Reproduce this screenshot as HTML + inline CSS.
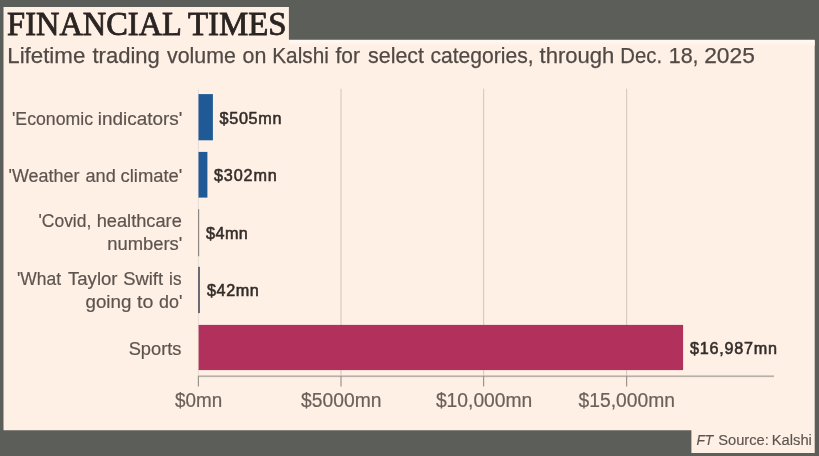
<!DOCTYPE html>
<html lang="en">
<head>
<meta charset="utf-8">
<title>Financial Times – Lifetime trading volume on Kalshi</title>
<style>
  html, body { margin: 0; padding: 0; background: #5c5e5a; }
  body { width: 819px; height: 456px; overflow: hidden; }
  svg { display: block; }
  .serif { font-family: "Liberation Serif", serif; }
  .sans { font-family: "Liberation Sans", sans-serif; }
</style>
</head>
<body>
<svg width="819" height="456" viewBox="0 0 819 456">
  <defs>
    <linearGradient id="edgeGlow" x1="0" y1="0" x2="0" y2="1">
      <stop offset="0" stop-color="#fffaf4"/>
      <stop offset="1" stop-color="#fef0e5"/>
    </linearGradient>
  </defs>
  <!-- backdrop -->
  <rect x="0" y="0" width="819" height="456" fill="#5c5e5a"/>
  <!-- paper: masthead tab + chart panel + source tab -->
  <path d="M3.5 7 H288.9 V39.8 H814.7 V453 H691.4 V430.3 H3.5 Z" fill="#fef0e5"/>
  <rect x="289.5" y="40.3" width="525.2" height="5.5" fill="url(#edgeGlow)"/>

  <!-- grid lines -->
  <g stroke="#d8ccc3" stroke-width="1.2">
    <line x1="198.4" y1="88.8" x2="198.4" y2="376" stroke="#eadfd6"/>
    <line x1="341" y1="88.8" x2="341" y2="376"/>
    <line x1="483.6" y1="88.8" x2="483.6" y2="376"/>
    <line x1="626.6" y1="88.8" x2="626.6" y2="376"/>
  </g>

  <!-- bars -->
  <rect x="198.5" y="94.1" width="14.4" height="46.2" fill="#1f5a96"/>
  <rect x="198.5" y="151.9" width="8.9" height="45.7" fill="#1f5a96"/>
  <rect x="198" y="209.2" width="1.2" height="47" fill="#8f867f"/>
  <rect x="198" y="266.8" width="2" height="46.3" fill="#6c6b73"/>
  <rect x="198.6" y="324.9" width="484.5" height="45.2" fill="#b2305c"/>

  <!-- axis -->
  <rect x="198" y="375.4" width="576" height="1.7" fill="#b9b0a7"/>
  <g stroke="#9c948d" stroke-width="1.2">
    <line x1="198.4" y1="376" x2="198.4" y2="386.4"/>
    <line x1="341" y1="376" x2="341" y2="386.4"/>
    <line x1="483.6" y1="376" x2="483.6" y2="386.4"/>
    <line x1="626.6" y1="376" x2="626.6" y2="386.4"/>
  </g>

  <!-- text -->
  <text class="serif" font-size="33" fill="#2a2422" stroke="#2a2422" stroke-width="0.8"><tspan x="7.12" y="34.60" textLength="173.60" lengthAdjust="spacingAndGlyphs">FINANCIAL</tspan> <tspan x="187.92" y="34.60" textLength="98.68" lengthAdjust="spacingAndGlyphs">TIMES</tspan></text>
  <text class="sans" font-size="22.4" fill="#514945" stroke="#514945" stroke-width="0.25"><tspan x="7.24" y="63.00" textLength="78.06" lengthAdjust="spacingAndGlyphs">Lifetime</tspan> <tspan x="92.50" y="63.00" textLength="67.30" lengthAdjust="spacingAndGlyphs">trading</tspan> <tspan x="167.00" y="63.00" textLength="68.80" lengthAdjust="spacingAndGlyphs">volume</tspan> <tspan x="242.50" y="63.00" textLength="23.80" lengthAdjust="spacingAndGlyphs">on</tspan> <tspan x="272.24" y="63.00" textLength="56.60" lengthAdjust="spacingAndGlyphs">Kalshi</tspan> <tspan x="335.54" y="63.00" textLength="24.46" lengthAdjust="spacingAndGlyphs">for</tspan> <tspan x="368.00" y="63.00" textLength="56.04" lengthAdjust="spacingAndGlyphs">select</tspan> <tspan x="430.50" y="63.00" textLength="103.10" lengthAdjust="spacingAndGlyphs">categories,</tspan> <tspan x="539.54" y="63.00" textLength="74.80" lengthAdjust="spacingAndGlyphs">through</tspan> <tspan x="620.36" y="63.00" textLength="41.82" lengthAdjust="spacingAndGlyphs">Dec.</tspan> <tspan x="668.70" y="63.00" textLength="29.86" lengthAdjust="spacingAndGlyphs">18,</tspan> <tspan x="704.20" y="63.00" textLength="50.64" lengthAdjust="spacingAndGlyphs">2025</tspan></text>
  <text class="sans" font-size="18.3" fill="#5d544f" stroke="#5d544f" stroke-width="0.2"><tspan x="12.00" y="124.50" textLength="81.00" lengthAdjust="spacingAndGlyphs">'Economic</tspan> <tspan x="97.74" y="124.50" textLength="84.60" lengthAdjust="spacingAndGlyphs">indicators'</tspan></text>
  <text class="sans" font-size="18.3" fill="#5d544f" stroke="#5d544f" stroke-width="0.2"><tspan x="8.54" y="181.90" textLength="70.96" lengthAdjust="spacingAndGlyphs">'Weather</tspan> <tspan x="85.54" y="181.90" textLength="30.26" lengthAdjust="spacingAndGlyphs">and</tspan> <tspan x="120.54" y="181.90" textLength="61.80" lengthAdjust="spacingAndGlyphs">climate'</tspan></text>
  <text class="sans" font-size="18.3" fill="#5d544f" stroke="#5d544f" stroke-width="0.2"><tspan x="38.54" y="226.70" textLength="52.76" lengthAdjust="spacingAndGlyphs">'Covid,</tspan> <tspan x="96.70" y="226.70" textLength="85.14" lengthAdjust="spacingAndGlyphs">healthcare</tspan> <tspan x="107.20" y="250.10" textLength="75.14" lengthAdjust="spacingAndGlyphs">numbers'</tspan></text>
  <text class="sans" font-size="18.3" fill="#5d544f" stroke="#5d544f" stroke-width="0.2"><tspan x="17.00" y="284.50" textLength="44.04" lengthAdjust="spacingAndGlyphs">'What</tspan> <tspan x="68.04" y="284.50" textLength="49.46" lengthAdjust="spacingAndGlyphs">Taylor</tspan> <tspan x="123.24" y="284.50" textLength="39.84" lengthAdjust="spacingAndGlyphs">Swift</tspan> <tspan x="169.08" y="284.50" textLength="12.38" lengthAdjust="spacingAndGlyphs">is</tspan> <tspan x="85.54" y="308.10" textLength="45.80" lengthAdjust="spacingAndGlyphs">going</tspan> <tspan x="137.00" y="308.10" textLength="16.30" lengthAdjust="spacingAndGlyphs">to</tspan> <tspan x="159.04" y="308.10" textLength="23.30" lengthAdjust="spacingAndGlyphs">do'</tspan></text>
  <text class="sans" font-size="18.3" fill="#5d544f" stroke="#5d544f" stroke-width="0.2"><tspan x="128.70" y="354.70" textLength="52.76" lengthAdjust="spacingAndGlyphs">Sports</tspan></text>
  <text class="sans" font-size="16.2" fill="#332d2a" stroke="#332d2a" stroke-width="0.55"><tspan x="219.58" y="123.60" textLength="61.88" lengthAdjust="spacing">$505mn</tspan></text>
  <text class="sans" font-size="16.2" fill="#332d2a" stroke="#332d2a" stroke-width="0.55"><tspan x="213.96" y="181.00" textLength="62.88" lengthAdjust="spacing">$302mn</tspan></text>
  <text class="sans" font-size="16.2" fill="#332d2a" stroke="#332d2a" stroke-width="0.55"><tspan x="205.88" y="238.90" textLength="42.00" lengthAdjust="spacing">$4mn</tspan></text>
  <text class="sans" font-size="16.2" fill="#332d2a" stroke="#332d2a" stroke-width="0.55"><tspan x="206.92" y="296.20" textLength="51.92" lengthAdjust="spacing">$42mn</tspan></text>
  <text class="sans" font-size="16.2" fill="#332d2a" stroke="#332d2a" stroke-width="0.55"><tspan x="689.96" y="353.80" textLength="87.04" lengthAdjust="spacing">$16,987mn</tspan></text>
  <text class="sans" font-size="19.3" fill="#6a615b" stroke="#6a615b" stroke-width="0.2"><tspan x="175.04" y="406.50" textLength="47.22" lengthAdjust="spacingAndGlyphs">$0mn</tspan></text>
  <text class="sans" font-size="19.3" fill="#6a615b" stroke="#6a615b" stroke-width="0.2"><tspan x="301.04" y="406.50" textLength="80.38" lengthAdjust="spacingAndGlyphs">$5000mn</tspan></text>
  <text class="sans" font-size="19.3" fill="#6a615b" stroke="#6a615b" stroke-width="0.2"><tspan x="435.92" y="406.50" textLength="96.38" lengthAdjust="spacingAndGlyphs">$10,000mn</tspan></text>
  <text class="sans" font-size="19.3" fill="#6a615b" stroke="#6a615b" stroke-width="0.2"><tspan x="578.54" y="406.50" textLength="96.38" lengthAdjust="spacingAndGlyphs">$15,000mn</tspan></text>
  <text class="sans" font-size="15.4" fill="#5d544f" stroke="#5d544f" stroke-width="0.15"><tspan x="696.42" y="444.60" font-style="italic" textLength="16.94" lengthAdjust="spacingAndGlyphs">FT</tspan> <tspan x="718.20" y="444.60" textLength="50.60" lengthAdjust="spacingAndGlyphs">Source:</tspan> <tspan x="771.70" y="444.60" textLength="40.22" lengthAdjust="spacingAndGlyphs">Kalshi</tspan></text>
</svg>
</body>
</html>
